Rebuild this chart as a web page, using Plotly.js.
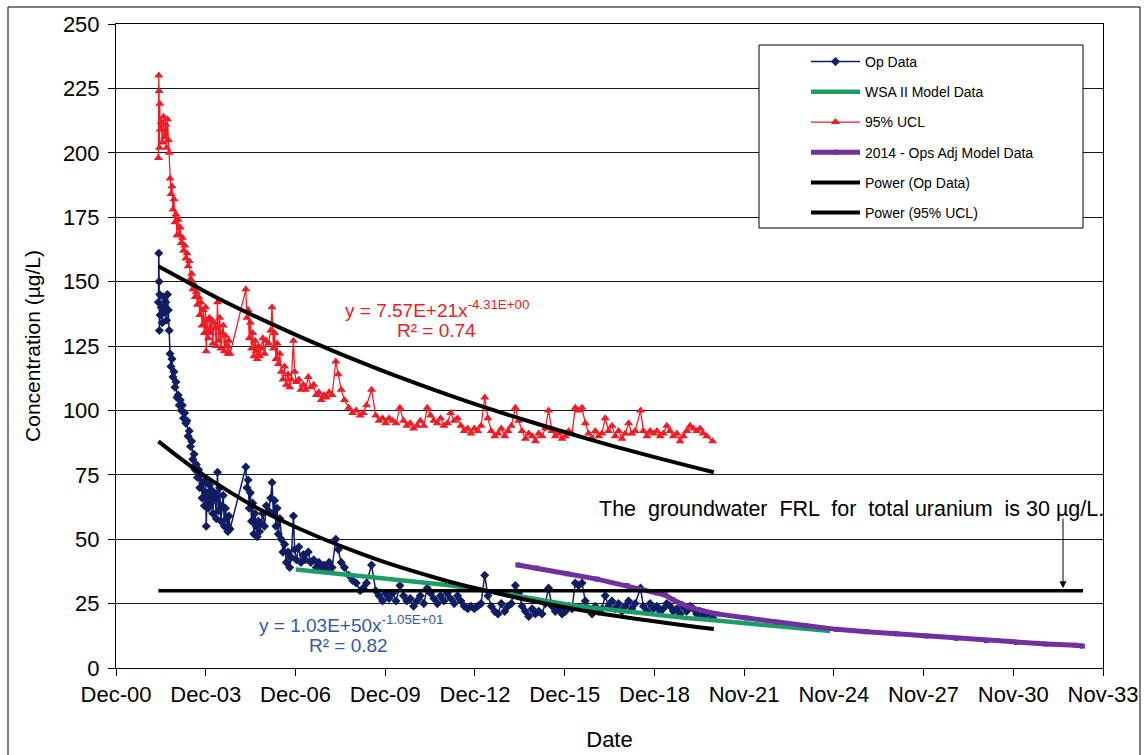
<!DOCTYPE html>
<html>
<head>
<meta charset="utf-8">
<script src="https://cdn.plot.ly/plotly-3.0.1.min.js"></script>
<style>
  html, body { margin: 0; padding: 0; background: #fff; }
  #chart { width: 1144px; height: 755px; }
</style>
</head>
<body>
<div id="chart"></div>
<script>
// Axis ticks (3-year spacing on a date axis)
const tickDates = ["2000-12-06","2003-12-06","2006-12-05","2009-12-04","2012-12-03","2015-12-03",
                   "2018-12-02","2021-11-30","2024-11-29","2027-11-28","2030-11-27","2033-11-26"];
const tickLabels = ["Dec-00","Dec-03","Dec-06","Dec-09","Dec-12","Dec-15",
                    "Dec-18","Nov-21","Nov-24","Nov-27","Nov-30","Nov-33"];
const yTicks = [0,25,50,75,100,125,150,175,200,225,250];

// Sampling dates shared by the operational data and its 95% UCL
const sampleDates = [
  "2002-05-08","2002-05-12","2002-05-16","2002-05-20","2002-05-24","2002-05-29","2002-06-10","2002-06-24","2002-07-08","2002-07-22","2002-08-05","2002-08-15","2002-08-26","2002-09-06","2002-09-16","2002-09-26","2002-10-08","2002-10-20","2002-11-01","2002-11-13","2002-11-25","2002-12-08","2002-12-20",
  "2003-01-03","2003-01-16","2003-01-29","2003-02-11","2003-02-24","2003-03-10","2003-03-24","2003-04-07","2003-04-21","2003-05-05","2003-05-19","2003-06-03","2003-06-17","2003-07-01","2003-07-16","2003-07-30","2003-08-13","2003-08-27","2003-09-10","2003-09-24","2003-10-08","2003-10-22","2003-11-05","2003-11-19","2003-12-03","2003-12-12","2003-12-22",
  "2004-01-06","2004-01-20","2004-02-03","2004-02-17","2004-03-02","2004-03-16","2004-03-30","2004-04-13","2004-04-27","2004-05-11","2004-05-25","2004-06-08","2004-06-22","2004-07-06","2004-07-20","2004-08-03","2004-08-17","2004-08-31","2004-09-14","2004-09-28",
  "2005-04-08","2005-04-22","2005-05-06","2005-05-20","2005-06-03","2005-06-17","2005-07-01","2005-07-15","2005-07-29","2005-08-12","2005-08-26","2005-09-09","2005-09-23","2005-10-10","2005-11-01","2005-11-22","2005-12-14",
  "2006-01-10","2006-02-05","2006-02-22","2006-03-10","2006-03-25","2006-04-10","2006-04-25","2006-05-10","2006-05-28","2006-06-15","2006-07-05","2006-07-25","2006-08-15","2006-09-05","2006-09-25","2006-10-15","2006-11-10","2006-11-25","2006-12-15",
  "2007-01-15","2007-02-10","2007-03-10","2007-04-05","2007-05-10","2007-06-10","2007-07-15","2007-08-15","2007-09-15","2007-10-15","2007-11-15","2007-12-15",
  "2008-01-20","2008-02-25","2008-04-10","2008-05-10","2008-06-15","2008-07-25","2008-09-15","2008-11-01","2008-12-15",
  "2009-02-01","2009-03-10","2009-04-20","2009-06-20","2009-08-10","2009-09-20","2009-11-01","2009-12-10",
  "2010-01-20","2010-03-05","2010-04-15","2010-06-01","2010-07-15","2010-08-25","2010-10-05","2010-11-15","2010-12-25",
  "2011-02-05","2011-03-20","2011-05-01","2011-06-10","2011-07-20","2011-09-01","2011-10-10","2011-11-20",
  "2012-01-01","2012-02-10","2012-03-25","2012-05-05","2012-06-15","2012-07-25","2012-09-05","2012-10-15","2012-11-25",
  "2013-01-05","2013-02-15","2013-04-01","2013-05-10","2013-06-20","2013-08-01","2013-09-10","2013-10-20","2013-12-01",
  "2014-01-10","2014-02-20","2014-04-10","2014-05-20","2014-07-01","2014-08-10","2014-09-20","2014-11-01","2014-12-10",
  "2015-01-20","2015-03-01","2015-04-10","2015-05-20","2015-07-01","2015-08-10","2015-09-20","2015-11-01","2015-12-10",
  "2016-01-20","2016-03-01","2016-04-10","2016-05-20","2016-07-01","2016-08-10","2016-09-20","2016-11-01","2016-12-10",
  "2017-01-20","2017-03-01","2017-04-10","2017-05-20","2017-07-01","2017-08-10","2017-09-20","2017-11-01","2017-12-10",
  "2018-01-20","2018-03-01","2018-04-10","2018-06-15","2018-07-20","2018-09-01","2018-10-10","2018-11-20",
  "2019-01-01","2019-02-10","2019-03-20","2019-05-01","2019-06-10","2019-07-20","2019-09-01","2019-10-10","2019-11-20","2019-12-30",
  "2020-02-10","2020-03-20","2020-05-01","2020-06-10","2020-07-20","2020-09-01","2020-11-10"
];

// Operational data, total uranium (µg/L)
const opValues = [
  142,161,150,131,145,137,140,134,144,138,142,135,145,139,131,122,117,120,113,115,109,111,105,
  106,102,104,100,102,97,99,95,96,90,92,86,88,81,83,77,79,74,77,70,75,66,72,63,73,55,68,
  62,71,64,69,60,68,66,58,76,61,70,57,63,67,55,62,58,53,59,54,
  78,70,73,62,68,57,64,52,60,55,51,57,53,56,60,55,63,
  61,66,72,60,65,55,62,52,58,50,45,48,41,45,39,43,59,46,42,
  47,41,44,42,45,41,42,39,41,39,40,38,
  41,39,50,46,41,39,36,34,33,
  30,31,33,40,30,28,26,29,
  27,29,26,32,28,26,27,24,26,
  28,25,31,29,27,25,28,26,
  29,27,25,28,26,24,23,24,23,
  24,25,36,28,24,22,21,25,22,
  24,25,32,29,24,22,20,23,21,
  22,21,25,31,24,22,23,21,22,
  24,23,33,32,33,26,23,21,24,
  22,23,28,24,26,23,25,22,24,
  26,23,25,31,24,22,25,23,
  24,22,23,25,24,22,23,21,24,22,
  24,23,21,22,20,21,19.5
];

// 95% upper confidence limit (µg/L)
const uclValues = [
  198,230,224,202,219,209,212,204,214,206,211,202,213,205,200,190,184,187,178,182,173,176,168,
  174,168,171,165,167,162,164,159,161,156,158,151,153,147,149,144,146,141,144,137,142,133,139,130,140,123,135,
  128,136,130,135,126,134,132,125,142,127,136,124,130,133,123,129,125,122,127,122,
  147,136,139,128,134,124,130,121,127,123,120,125,121,124,128,122,127,
  126,131,140,124,130,120,126,118,122,115,112,117,110,114,109,112,127,115,111,
  112,108,110,108,113,109,110,106,107,104,106,105,
  107,106,119,114,108,104,101,99,100,
  98,99,102,108,98,96,97,95,
  97,96,95,101,96,94,95,93,94,
  96,94,101,98,96,95,97,94,
  95,99,96,97,94,92,93,91,93,
  92,94,105,97,92,90,91,93,90,
  92,94,101,96,92,89,91,90,88,
  91,90,93,100,92,90,91,89,90,
  92,91,101,100,101,95,91,89,92,
  90,91,97,92,94,90,92,89,91,
  95,91,92,100,92,90,92,91,
  92,90,91,94,92,90,91,88,90,92,
  94,93,92,93,91,90,88
];

// WSA II model prediction
const wsaDates = ["2006-12-10","2008-01-01","2009-01-01","2010-01-01","2011-01-01","2012-01-01","2013-01-01",
                  "2014-01-01","2015-01-01","2016-01-01","2017-01-01","2018-01-01","2019-01-01","2020-01-01",
                  "2021-01-01","2022-01-01","2023-01-01","2024-01-01","2024-10-15"];
const wsaValues = [38.2,37.0,35.6,34.4,33.3,32.2,30.6,28.6,26.6,24.7,23.2,21.8,20.6,19.4,18.4,17.4,16.3,15.3,14.4];

// 2014 operations-adjusted model prediction
const adjDates = ["2014-05-10","2015-01-01","2016-01-01","2017-01-01","2018-01-01","2019-01-01","2019-04-15",
                  "2019-07-15","2019-10-15","2020-01-15","2020-07-01","2021-01-01","2022-01-01","2023-01-01",
                  "2024-01-01","2025-01-01","2026-01-01","2027-01-01","2028-01-01","2029-01-01","2030-01-01",
                  "2031-01-01","2032-01-01","2033-01-01","2033-03-20"];
const adjValues = [40.0,38.8,36.6,34.5,32.0,29.2,28.3,26.5,25.0,23.8,22.3,21.0,19.4,17.8,16.3,15.0,14.1,13.3,
                   12.4,11.5,10.6,9.9,9.3,8.8,8.5];

// Power trend lines
const opTrendDates = ["2002-05-08","2003-07-01","2004-04-20","2005-09-27","2006-11-02","2007-12-25","2009-02-01",
                      "2010-03-10","2011-04-27","2012-06-03","2013-06-03","2015-01-01","2017-03-15","2020-11-25"];
const opTrendValues = [88,77.8,71.5,61.5,55.2,49.5,44.5,40.0,36.0,32.4,29.7,25.6,21.0,15.1];
const uclTrendDates = ["2002-05-08","2004-09-27","2006-12-24","2008-01-30","2008-10-01","2010-06-03","2012-08-28",
                       "2014-11-10","2017-02-06","2019-05-05","2020-11-25"];
const uclTrendValues = [156,141.2,129.1,123.6,120.4,112.8,103.5,95.3,87.6,80.6,76];

// Final remediation level
const frlDates = ["2002-05-08","2033-03-28"];
const frlValues = [30,30];

const FONT = "Arial, 'Liberation Sans', sans-serif";
const NAVY = "#111d63";
const RED = "#ee1c24";
const GREEN = "#1c9d63";
const PURPLE = "#7030a0";

const traces = [
  { name: "Op Data", x: sampleDates, y: opValues, type: "scatter", mode: "lines+markers",
    line: { color: NAVY, width: 1.5 }, marker: { symbol: "diamond", size: 7, color: NAVY },
    legendgroup: "g1" },
  { name: "WSA II Model Data", x: wsaDates, y: wsaValues, type: "scatter", mode: "lines",
    line: { color: GREEN, width: 4.5 }, legendgroup: "g2" },
  { name: "95% UCL", x: sampleDates, y: uclValues, type: "scatter", mode: "lines+markers",
    line: { color: RED, width: 1.25 }, marker: { symbol: "triangle-up", size: 8, color: RED },
    legendgroup: "g3" },
  { name: "2014 - Ops Adj Model Data", x: adjDates, y: adjValues, type: "scatter", mode: "lines+markers",
    line: { color: PURPLE, width: 5 }, marker: { symbol: "square", size: 5, color: PURPLE },
    legendgroup: "g4" },
  { name: "Power (Op Data)", x: opTrendDates, y: opTrendValues, type: "scatter", mode: "lines",
    line: { color: "#000", width: 4, shape: "spline", smoothing: 1 }, legendgroup: "g5" },
  { name: "Power (95% UCL)", x: uclTrendDates, y: uclTrendValues, type: "scatter", mode: "lines",
    line: { color: "#000", width: 4, shape: "spline", smoothing: 1 }, legendgroup: "g6" },
  { name: "FRL", x: frlDates, y: frlValues, type: "scatter", mode: "lines",
    line: { color: "#000", width: 3.5 }, showlegend: false }
];

// helpers for paper coordinates of the frame and legend box
const L = 116, R = 1103, T = 24, B = 668;
const px = v => (v - L) / (R - L);
const py = v => (B - v) / (B - T);

const layout = {
  width: 1144, height: 755,
  margin: { l: L, r: 1144 - R, t: T, b: 755 - B, pad: 0 },
  paper_bgcolor: "#fff", plot_bgcolor: "#fff",
  font: { family: FONT, color: "#000", size: 14 },
  showlegend: true,
  legend: {
    x: px(806), y: py(46), xanchor: "left", yanchor: "top",
    bgcolor: "rgba(0,0,0,0)", borderwidth: 0,
    font: { family: FONT, size: 14, color: "#000" },
    traceorder: "grouped", tracegroupgap: 9, itemwidth: 49
  },
  xaxis: {
    type: "date", range: [tickDates[0], tickDates[tickDates.length - 1]],
    tickmode: "array", tickvals: tickDates, ticktext: tickLabels,
    ticks: "outside", ticklen: 7, tickwidth: 1, tickcolor: "#000",
    showline: true, linecolor: "#000", linewidth: 1, mirror: true,
    showgrid: false, zeroline: false,
    tickfont: { family: FONT, size: 22, color: "#000" },
    title: { text: "Date", font: { family: FONT, size: 22, color: "#000" }, standoff: 25 },
    automargin: false
  },
  yaxis: {
    range: [0, 250], tickmode: "array", tickvals: yTicks,
    ticks: "outside", ticklen: 7, tickwidth: 1, tickcolor: "#000",
    ticklabelstandoff: 4,
    showline: true, linecolor: "#000", linewidth: 1, mirror: true,
    showgrid: true, gridcolor: "#1a1a1a", gridwidth: 1, zeroline: false,
    tickfont: { family: FONT, size: 22, color: "#000" },
    title: { text: "Concentration (µg/L)", font: { family: FONT, size: 21, color: "#000" }, standoff: 16 },
    automargin: false
  },
  shapes: [
    // outer chart frame
    { type: "rect", xref: "paper", yref: "paper", x0: px(8), x1: px(1140), y0: py(800), y1: py(7),
      line: { color: "#000", width: 1 }, fillcolor: "rgba(0,0,0,0)", layer: "above" },
    // legend frame
    { type: "rect", xref: "paper", yref: "paper", x0: px(759), x1: px(1083), y0: py(228), y1: py(45),
      line: { color: "#000", width: 1 }, fillcolor: "#fff", layer: "above" }
  ],
  annotations: [
    { x: "2011-08-25", y: 139.5, xref: "x", yref: "y", showarrow: false, xanchor: "center", yanchor: "middle",
      text: "y = 7.57E+21x<sup>-4.31E+00</sup>", font: { family: FONT, size: 19, color: RED } },
    { x: "2011-08-25", y: 131.2, xref: "x", yref: "y", showarrow: false, xanchor: "center", yanchor: "middle",
      text: "R² = 0.74", font: { family: FONT, size: 19, color: RED } },
    { x: "2008-10-10", y: 16.9, xref: "x", yref: "y", showarrow: false, xanchor: "center", yanchor: "middle",
      text: "y = 1.03E+50x<sup>-1.05E+01</sup>", font: { family: FONT, size: 19, color: "#3559ab" } },
    { x: "2008-09-16", y: 8.9, xref: "x", yref: "y", showarrow: false, xanchor: "center", yanchor: "middle",
      text: "R² = 0.82", font: { family: FONT, size: 19, color: "#3559ab" } },
    { x: "2025-07-08", y: 61.7, xref: "x", yref: "y", showarrow: false, xanchor: "center", yanchor: "middle",
      text: "The  groundwater  FRL  for  total uranium  is 30 µg/L.", font: { family: FONT, size: 21.5, color: "#000" } },
    { x: "2032-07-26", y: 31, xref: "x", yref: "y", ax: "2032-07-26", ay: 58.6, axref: "x", ayref: "y",
      text: "", showarrow: true, arrowhead: 2, arrowsize: 1.4, arrowwidth: 1, arrowcolor: "#000" }
  ]
};

Plotly.newPlot("chart", traces, layout, { staticPlot: true, displayModeBar: false });
</script>
</body>
</html>
